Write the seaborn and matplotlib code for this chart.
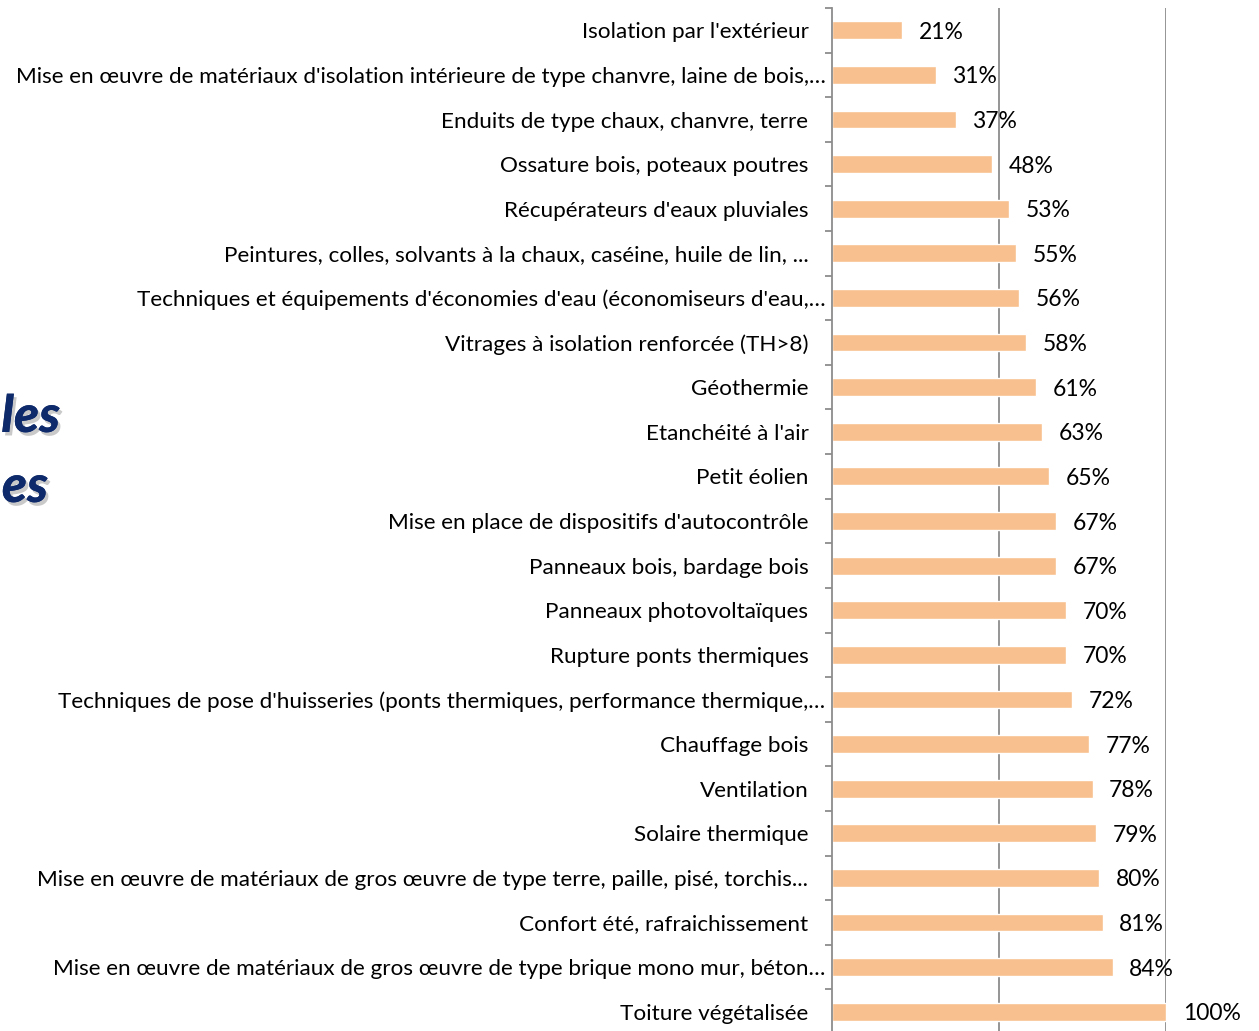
import matplotlib
matplotlib.use("Agg")
import matplotlib.pyplot as plt
import matplotlib.patheffects as pe
import matplotlib.transforms as mtransforms
import seaborn as sns
import pandas as pd

categories = [
    "Isolation par l'extérieur",
    "Mise en œuvre de matériaux d'isolation intérieure de type chanvre, laine de bois,…",
    "Enduits de type chaux, chanvre, terre",
    "Ossature bois, poteaux poutres",
    "Récupérateurs d'eaux pluviales",
    "Peintures, colles, solvants à la chaux, caséine, huile de lin, ...",
    "Techniques et équipements d'économies d'eau (économiseurs d'eau,…",
    "Vitrages à isolation renforcée (TH>8)",
    "Géothermie",
    "Etanchéité à l'air",
    "Petit éolien",
    "Mise en place de dispositifs d'autocontrôle",
    "Panneaux bois, bardage bois",
    "Panneaux photovoltaïques",
    "Rupture ponts thermiques",
    "Techniques de pose d'huisseries (ponts thermiques, performance thermique,…",
    "Chauffage bois",
    "Ventilation",
    "Solaire thermique",
    "Mise en œuvre de matériaux de gros œuvre de type terre, paille, pisé, torchis...",
    "Confort été, rafraichissement",
    "Mise en œuvre de matériaux de gros œuvre de type brique mono mur, béton…",
    "Toiture végétalisée",
]
values = [21, 31, 37, 48, 53, 55, 56, 58, 61, 63, 65, 67, 67, 70, 70, 72, 77, 78, 79, 80, 81, 84, 100]
title_fragments = ["les", "es"]

df = pd.DataFrame({"cat": categories, "val": values})

sns.set_theme(style="white")
plt.rcParams["font.family"] = ["Lato", "DejaVu Sans"]

W, H = 1259, 1031
fig = plt.figure(figsize=(W / 100, H / 100), dpi=100)
ax = fig.add_axes([832 / W, -3 / H, (1166 - 832) / W, (1031 - 8 + 3) / H])

sns.barplot(data=df, y="cat", x="val", orient="h", color="#F9C08F",
            saturation=1, width=0.4, ax=ax)

ax.set_xlim(0, 100)
n = len(categories)
ax.set_ylim(n - 0.5, -0.5)
ax.set_xlabel("")
ax.set_ylabel("")
ax.set_xticks([])
for x in (50, 100):
    ax.axvline(x, color="#8C8C8C", lw=1.3, zorder=0)

for s in ("top", "right", "bottom"):
    ax.spines[s].set_visible(False)
ax.spines["left"].set_color("#8C8C8C")
ax.spines["left"].set_linewidth(1.3)

ax.set_yticks(range(n))
ax.set_yticklabels(categories, fontsize=16.2, color="#000000")
ax.set_yticks([i - 0.5 for i in range(n + 1)], minor=True)
ax.tick_params(axis="y", which="major", length=0, pad=17)
ax.tick_params(axis="y", which="minor", length=5, width=1.3, color="#8C8C8C", left=True)

# truncated labels (ending with an ellipsis) sit closer to the axis
shift = mtransforms.ScaledTranslation(17 / 100, 0, fig.dpi_scale_trans)
for lab in ax.get_yticklabels():
    if lab.get_text().endswith("…"):
        lab.set_transform(lab.get_transform() + shift)

for c in ax.containers:
    texts = ax.bar_label(c, labels=[f"{v}%" for v in values], padding=12, fontsize=16.5,
                         color="#000000")
    for t in texts:
        t.set_va("center_baseline")

shadow = [pe.withSimplePatchShadow(offset=(2, -2.5), shadow_rgbFace="#888888", alpha=0.45), pe.Normal()]
fig.text(60 / W, 1 - 432 / H, title_fragments[0], ha="right", va="baseline", fontsize=37,
         fontweight="black", style="italic", color="#0E2A6B", path_effects=shadow)
fig.text(48 / W, 1 - 502 / H, title_fragments[1], ha="right", va="baseline", fontsize=37,
         fontweight="black", style="italic", color="#0E2A6B", path_effects=shadow)

fig.savefig("out.png", dpi=100)
